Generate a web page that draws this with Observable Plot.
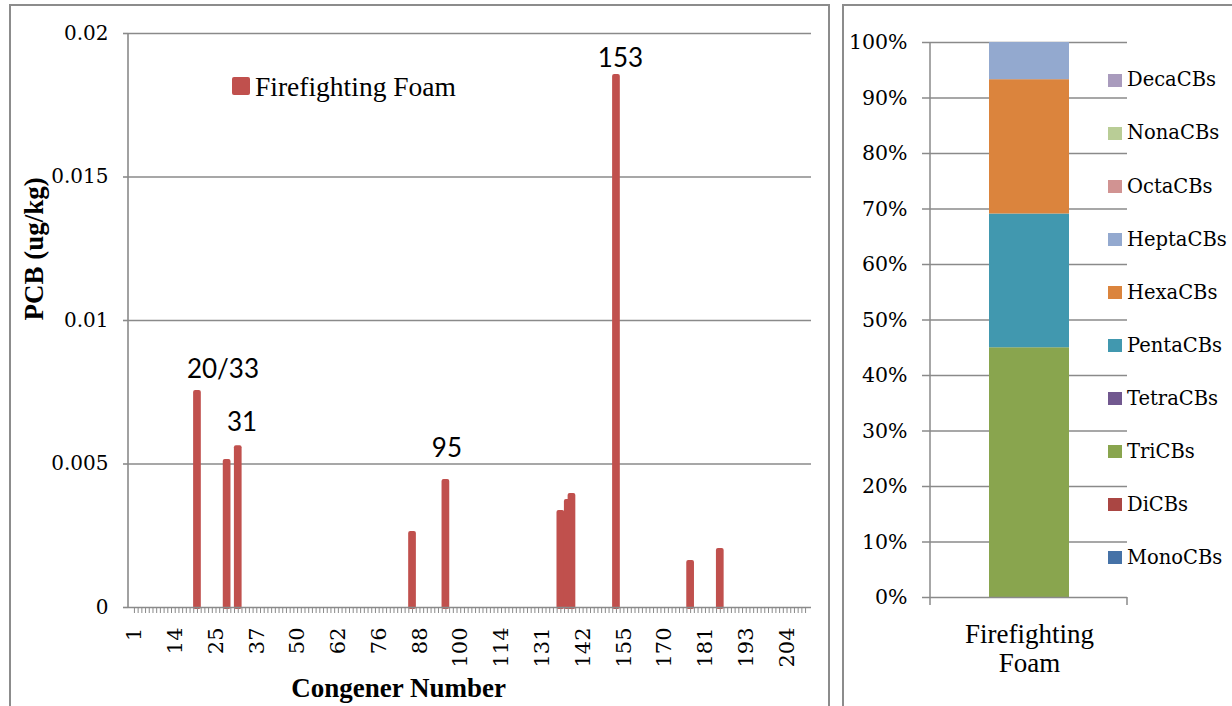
<!DOCTYPE html>
<html>
<head>
<meta charset="utf-8">
<script src="https://cdn.jsdelivr.net/npm/d3@7"></script>
<script src="https://cdn.jsdelivr.net/npm/@observablehq/plot@0.6"></script>
<style>
  html, body { margin: 0; padding: 0; background: #fff; }
  #wrap { position: relative; width: 1232px; height: 706px; overflow: hidden; background: #fff; }
  .abs { position: absolute; }
  .panel { position: absolute; border: 2px solid #8c8c8c; box-sizing: border-box; pointer-events: none; }
  .lg { position: absolute; white-space: nowrap; color: #000; }
  .sw { position: absolute; }
</style>
</head>
<body>
<div id="wrap">
  <div id="leftPlot" class="abs" style="left:0;top:0;"></div>
  <div id="rightPlot" class="abs" style="left:840px;top:0;"></div>
</div>
<script>
// ---------- data ----------
const categories = [
  "1","2","3","4/10","5","6","7","8","9","11","12/13","14",
  "15","16","17","18","19","20/33","21","22","23","24","25",
  "26","27","28","29","30","31","32","34","35","36","37",
  "38","39","40/41","42","43","44/47","45","46","48","49","50",
  "51","52","53","54","55","56/60","57","58","59","61","62",
  "63","64/71","65","66","67","68","69","70/74","72","73/75","76",
  "77","78","79","80","81","82","83","84","85","86/87","88",
  "89","90","91","92","93","94","95","96","97/98","99","100",
  "101","102","103","104","105","106/107","108","109","110/111","112/113","114",
  "115/116","117/118","119/120","121/122","123/124","125/126","127","128","129","130","131",
  "132","133","134","135/151","136","137","138","139","140","141","142",
  "143","144","145","146","147/149","148","150","152","153","154","155",
  "156/157","158/160","159","161","162","163/164","165","166/167","168","169","170",
  "171","172","173","174","175","176","177","178","179","180","181",
  "182","183","184","185","186","187","188","189","190","191/192","193",
  "194","195","196","197","198","199","200","201","202","203","204",
  "205","206","207","208","209"
];
const xTickLabels = ["1","14","25","37","50","62","76","88","100","114","131","142","155","170","181","193","204"];
const barCongeners = ["20/33","28","31","85","95","136","138","139","153","177","185"];
const barValues    = [0.00749,0.00509,0.00557,0.00258,0.00439,0.00331,0.00369,0.00390,0.01850,0.00157,0.00199];
const labelledCongeners = ["20/33","31","95","153"];
const yTicks      = [0, 0.005, 0.01, 0.015, 0.02];
const yTickLabels = ["0","0.005","0.01","0.015","0.02"];
const seriesName  = "Firefighting Foam";

const homologs      = ["MonoCBs","DiCBs","TriCBs","TetraCBs","PentaCBs","HexaCBs","HeptaCBs","OctaCBs","NonaCBs","DecaCBs"];
const homologPct    = [0, 0, 45.0, 0, 24.1, 24.2, 6.7, 0, 0, 0];
const homologColors = ["#4572A7","#AA4643","#89A54E","#71588F","#4198AF","#DB843D","#93A9CF","#D19392","#B9CD96","#A99BBD"];
const pctTicks      = [0,10,20,30,40,50,60,70,80,90,100];
const sampleName    = "Firefighting Foam";

// ---------- styles ----------
const GRAY = "#8a8a8a";
const RED = "#C0504D";
const SERIF_W = "'DejaVu Serif', serif";
const SERIF_T = "'Liberation Serif', 'Times New Roman', serif";
const SANS = "Lato, 'Open Sans', sans-serif";

const bars = barCongeners.map((c, i) => ({congener: c, value: barValues[i]}));
const valueOf = Object.fromEntries(bars.map(d => [d.congener, d.value]));
const labelOffsets = {"20/33": [25.5, -23], "31": [3.7, -25], "95": [1, -32.5], "153": [4, -17.5]};

const labelMarks = labelledCongeners.map(c => Plot.text([{congener: c, value: valueOf[c]}], {
  x: "congener", y: "value", text: d => d.congener,
  dx: labelOffsets[c][0], dy: labelOffsets[c][1],
  fontFamily: SANS, fontSize: 26, fill: "#000"
}));

// ---------- left chart ----------
const left = Plot.plot({
  width: 830, height: 706,
  marginLeft: 128, marginRight: 19, marginTop: 33, marginBottom: 99,
  style: {background: "transparent", fontFamily: SERIF_W, fontSize: "20px", color: "#000", overflow: "visible"},
  x: {type: "band", domain: categories, paddingInner: 0, paddingOuter: 1.1, align: 0.5, label: null},
  y: {type: "linear", domain: [0, 0.02], label: null},
  marks: [
    Plot.ruleY(yTicks.filter(d => d > 0), {stroke: GRAY, strokeWidth: 1.6}),
    Plot.barY(bars, {x: "congener", y: "value", fill: RED, stroke: RED, strokeWidth: 4, strokeLinejoin: "round"}),
    Plot.ruleY([0], {stroke: GRAY, strokeWidth: 1.6}),
    Plot.axisX({ticks: categories, tickSize: 6, tickFormat: () => "", stroke: GRAY, strokeWidth: 1}),
    Plot.axisX({ticks: xTickLabels, tickSize: 0, tickPadding: 20, tickRotate: -90, fontSize: 21, fontFamily: SERIF_W}),
    Plot.axisY({ticks: yTicks, tickSize: 5, tickPadding: 15, stroke: GRAY, strokeWidth: 1.6,
                tickFormat: d => yTickLabels[yTicks.indexOf(d)], fontSize: 20, fontFamily: SERIF_W}),
    ...labelMarks,
    Plot.text(["Congener Number"], {frameAnchor: "bottom", text: d => d, dx: -71.5, dy: 89,
      fontFamily: SERIF_T, fontWeight: "bold", fontSize: 27, fill: "#000"}),
    Plot.text(["PCB (ug/kg)"], {frameAnchor: "left", text: d => d, rotate: -90, dx: -94,
      fontFamily: SERIF_T, fontWeight: "bold", fontSize: 27, fill: "#000"})
  ]
});
document.getElementById("leftPlot").appendChild(left);
{
  const sx = left.scale("x"), sy = left.scale("y");
  d3.select(left).append("line")
    .attr("x1", sx.range[0]).attr("x2", sx.range[0])
    .attr("y1", sy.range[1]).attr("y2", sy.range[0] + 1)
    .attr("stroke", GRAY).attr("stroke-width", 1.6);
}

// ---------- right chart ----------
const homData = homologs.map((h, i) => ({sample: sampleName, cls: h, pct: homologPct[i]}));
const right = Plot.plot({
  width: 392, height: 706,
  marginLeft: 90, marginRight: 105, marginTop: 42, marginBottom: 109,
  style: {background: "transparent", fontFamily: SERIF_W, fontSize: "20px", color: "#000", overflow: "visible"},
  x: {type: "band", domain: [sampleName], padding: 0.4224, label: null},
  y: {type: "linear", domain: [0, 100], label: null},
  color: {domain: homologs, range: homologColors},
  marks: [
    Plot.ruleY(pctTicks.filter(d => d > 0), {stroke: GRAY, strokeWidth: 1.5}),
    Plot.barY(homData, {x: "sample", y: "pct", fill: "cls"}),
    Plot.ruleY([0], {stroke: GRAY, strokeWidth: 1.5}),
    Plot.axisY({ticks: pctTicks, tickSize: 8, tickPadding: 15, stroke: GRAY, strokeWidth: 1.5,
                tickFormat: d => d + "%", fontSize: 20.5, fontFamily: SERIF_W}),
    Plot.axisX({tickSize: 0, tickPadding: 25.8, tickFormat: d => d.replace(" ", "\n"),
                lineHeight: 1.05, fontFamily: SERIF_T, fontSize: 27})
  ]
});
document.getElementById("rightPlot").appendChild(right);
{
  const sx = right.scale("x"), sy = right.scale("y");
  const g = d3.select(right).append("g").attr("stroke", GRAY).attr("stroke-width", 1.5);
  g.append("line").attr("x1", sx.range[0]).attr("x2", sx.range[0]).attr("y1", sy.range[1]).attr("y2", sy.range[0] + 8);
  g.append("line").attr("x1", sx.range[1]).attr("x2", sx.range[1]).attr("y1", sy.range[0]).attr("y2", sy.range[0] + 8);
}

// ---------- legends ----------
const wrap = document.getElementById("wrap");
function addText(txt, leftPx, baseline, font, size, weight) {
  const A = font === SERIF_W ? 0.928 : 0.891, D = font === SERIF_W ? 0.236 : 0.216;
  const top = baseline - ((size - (A + D) * size) / 2 + A * size);
  const el = document.createElement("div");
  el.className = "lg";
  el.textContent = txt;
  Object.assign(el.style, {left: leftPx + "px", top: top + "px", fontFamily: font, fontSize: size + "px",
    lineHeight: size + "px", fontWeight: weight || "normal"});
  wrap.appendChild(el);
}
function addSwatch(color, x, y, w, h, r) {
  const el = document.createElement("div");
  el.className = "sw";
  Object.assign(el.style, {left: x + "px", top: y + "px", width: w + "px", height: h + "px", background: color, borderRadius: (r || 0) + "px"});
  wrap.appendChild(el);
}
// left legend
addSwatch(RED, 232, 76.5, 18, 18.5, 2);
addText(seriesName, 255, 96, SERIF_T, 27.5);
// right legend (top to bottom: reverse of stacking order)
homologs.slice().reverse().forEach((h, k) => {
  const col = homologColors[homologs.indexOf(h)];
  addSwatch(col, 1108, 73.5 + 53.1 * k, 13.5, 13);
  addText(h, 1127, 86.8 + 53.1 * k, SERIF_W, 19.5);
});

// panel borders
[[9, 4, 821], [842, 4, 420]].forEach(([x, y, w]) => {
  const el = document.createElement("div");
  el.className = "panel";
  Object.assign(el.style, {left: x + "px", top: y + "px", width: w + "px", height: "760px"});
  wrap.appendChild(el);
});
</script>
</body>
</html>
